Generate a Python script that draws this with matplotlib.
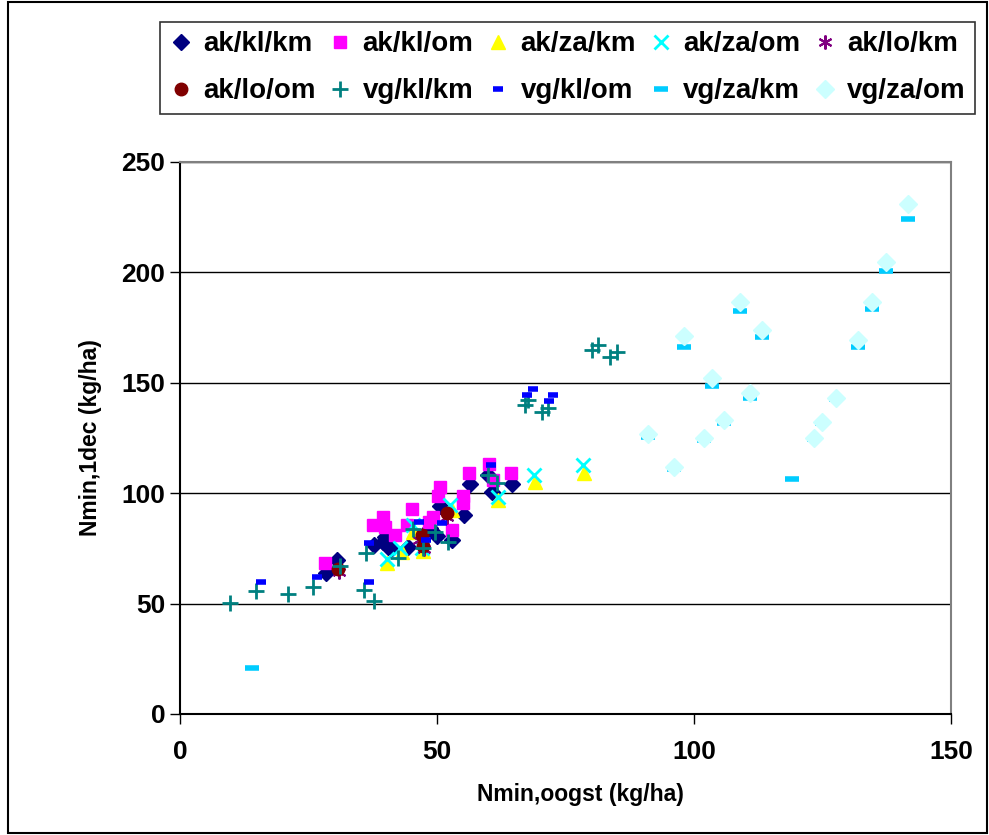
import matplotlib.pyplot as plt
from matplotlib.patches import Rectangle

plt.rcParams['font.family'] = ['Liberation Sans', 'DejaVu Sans']
plt.rcParams['font.weight'] = 'bold'

# series: (x = Nmin oogst, y = Nmin 1 dec), kg/ha
ak_kl_km_x = [28.4, 30.5, 37.7, 39.5, 39.9, 40.5, 41.2, 44.4, 48.6, 50.0, 50.6, 52.9, 55.3, 56.4, 59.9, 60.7, 64.6]
ak_kl_km_y = [64.0, 69.5, 76.5, 78.0, 80.0, 75.5, 75.0, 75.5, 84.0, 80.5, 94.0, 79.0, 90.0, 104.0, 108.0, 100.5, 104.0]

ak_kl_om_x = [28.2, 37.5, 39.5, 39.9, 41.8, 44.2, 45.1, 48.4, 49.2, 50.2, 50.6, 52.9, 55.1, 55.1, 56.2, 60.1, 60.9, 64.4]
ak_kl_om_y = [68.5, 85.5, 89.0, 84.5, 81.0, 85.5, 93.0, 87.0, 89.0, 98.5, 103.0, 83.5, 98.5, 95.5, 109.0, 113.0, 106.0, 109.0]

ak_za_km_x = [40.3, 43.2, 45.3, 47.3, 52.9, 61.9, 69.1, 78.6]
ak_za_km_y = [68.4, 73.4, 82.5, 73.8, 92.3, 96.9, 105.0, 109.1]

ak_za_om_x = [40.3, 42.8, 45.3, 47.1, 52.5, 61.9, 68.9, 78.4]
ak_za_om_y = [70.2, 75.2, 85.6, 75.2, 94.6, 98.2, 108.2, 112.8]

ak_lo_km_x = [31.0, 47.5, 52.0, 46.5]
ak_lo_km_y = [64.5, 74.5, 89.0, 79.0]

ak_lo_om_x = [30.7, 47.1, 47.3, 51.9]
ak_lo_om_y = [65.5, 81.0, 76.0, 91.0]

vg_kl_km_x = [9.7, 14.8, 21.0, 25.9, 35.8, 37.7, 31.1, 36.2, 42.4, 45.3, 47.3, 49.6, 52.1,
              59.9, 61.7, 67.1, 67.7, 70.4, 71.6, 80.2, 81.3, 83.7, 85.0]
vg_kl_km_y = [50.3, 55.7, 54.3, 57.5, 56.2, 51.2, 67.0, 72.9, 70.6, 83.8, 75.2, 82.4, 77.9,
              108.2, 104.6, 140.0, 142.2, 136.8, 138.6, 164.9, 167.1, 161.7, 164.0]

vg_kl_om_x = [15.8, 26.7, 36.8, 36.8, 46.5, 47.9, 51.0, 60.5, 67.5, 68.7, 71.8, 72.6]
vg_kl_om_y = [59.8, 62.0, 59.8, 77.4, 87.0, 78.8, 86.5, 112.8, 144.5, 147.2, 141.8, 144.5]

vg_za_km_x = [141.6, 137.4, 134.6, 131.9, 127.6, 124.9, 123.3, 108.9, 113.2, 98.1, 103.5,
              110.9, 105.8, 101.9, 91.0, 96.1, 119.1, 14.0]
vg_za_km_y = [224.0, 200.6, 183.4, 166.2, 142.7, 131.8, 124.6, 182.5, 170.7, 166.2, 148.6,
              143.1, 131.8, 124.1, 125.5, 111.0, 106.4, 20.8]

vg_za_om_x = [141.6, 137.4, 134.6, 131.9, 127.6, 124.9, 123.3, 108.9, 113.2, 98.1, 103.5,
              110.9, 105.8, 101.9, 91.0, 96.1]
vg_za_om_y = [231.0, 204.7, 186.6, 169.4, 143.1, 132.2, 125.0, 186.6, 173.9, 171.2, 152.2,
              145.4, 133.2, 125.0, 126.8, 111.9]

fig = plt.figure(figsize=(9.89, 8.35), dpi=100)
ax = fig.add_axes([0.182, 0.145, 0.7796, 0.661])

ax.plot(ak_kl_km_x, ak_kl_km_y, ls='none', marker='D', ms=8, color='#000080', label='ak/kl/km')
ax.plot(ak_kl_om_x, ak_kl_om_y, ls='none', marker='s', ms=9, color='#FF00FF', label='ak/kl/om')
ax.plot(ak_za_km_x, ak_za_km_y, ls='none', marker='^', ms=10, color='#FFFF00', label='ak/za/km')
ax.plot(ak_za_om_x, ak_za_om_y, ls='none', marker='x', ms=10, mew=2, color='#00FFFF', label='ak/za/om')
ax.plot(ak_lo_km_x, ak_lo_km_y, ls='none', marker=(6, 2, 0), ms=10, mew=1.5, color='#800080', label='ak/lo/km')
ax.plot(ak_lo_om_x, ak_lo_om_y, ls='none', marker='o', ms=9, color='#800000', label='ak/lo/om')
ax.plot(vg_kl_km_x, vg_kl_km_y, ls='none', marker='+', ms=11, mew=2, color='#008080', label='vg/kl/km')
ax.plot(vg_kl_om_x, vg_kl_om_y, ls='none', marker='_', ms=7, mew=4, color='#0000FF', label='vg/kl/om')
ax.plot(vg_za_km_x, vg_za_km_y, ls='none', marker='_', ms=10, mew=4, color='#00CCFF', label='vg/za/km')
ax.plot(vg_za_om_x, vg_za_om_y, ls='none', marker='D', ms=9, color='#CCFFFF', label='vg/za/om')

ax.set_xlim(0, 150)
ax.set_ylim(0, 250)
ax.set_xticks([0, 50, 100, 150])
ax.set_yticks([0, 50, 100, 150, 200, 250])
ax.yaxis.grid(True, color='black', lw=1)
ax.set_axisbelow(True)
ax.tick_params(labelsize=19, length=7, width=1, direction='out')
ax.tick_params(axis='x', pad=12)
for s in ['left', 'bottom']:
    ax.spines[s].set_color('black')
    ax.spines[s].set_linewidth(1.5)
for s in ['top', 'right']:
    ax.spines[s].set_color('#808080')
    ax.spines[s].set_linewidth(1.5)

ax.set_xlabel('Nmin,oogst (kg/ha)', fontsize=16.5, fontweight='bold', labelpad=20)
ax.xaxis.set_label_coords(0.52, -0.125)
ax.set_ylabel('Nmin,1dec (kg/ha)', fontsize=16.5, fontweight='bold', labelpad=14)

# legend is filled row by row in the reference; matplotlib fills by column
handles, labels = ax.get_legend_handles_labels()
order = [0, 5, 1, 6, 2, 7, 3, 8, 4, 9]
leg = fig.legend([handles[i] for i in order], [labels[i] for i in order],
                 loc='upper left', bbox_to_anchor=(0.162, 0.865, 0.824, 0.109), mode='expand',
                 ncol=5, frameon=True, fancybox=False, edgecolor='black',
                 handlelength=0.8, handletextpad=0.4, columnspacing=0.6, borderaxespad=0,
                 borderpad=0.35, labelspacing=0.75, prop={'weight': 'bold', 'size': 20})
leg.get_frame().set_linewidth(1.2)

fig.patches.append(Rectangle((0.008, 0.002), 0.99, 0.996, transform=fig.transFigure,
                             fill=False, edgecolor='black', lw=1.5))

fig.savefig('out.png', dpi=100)
